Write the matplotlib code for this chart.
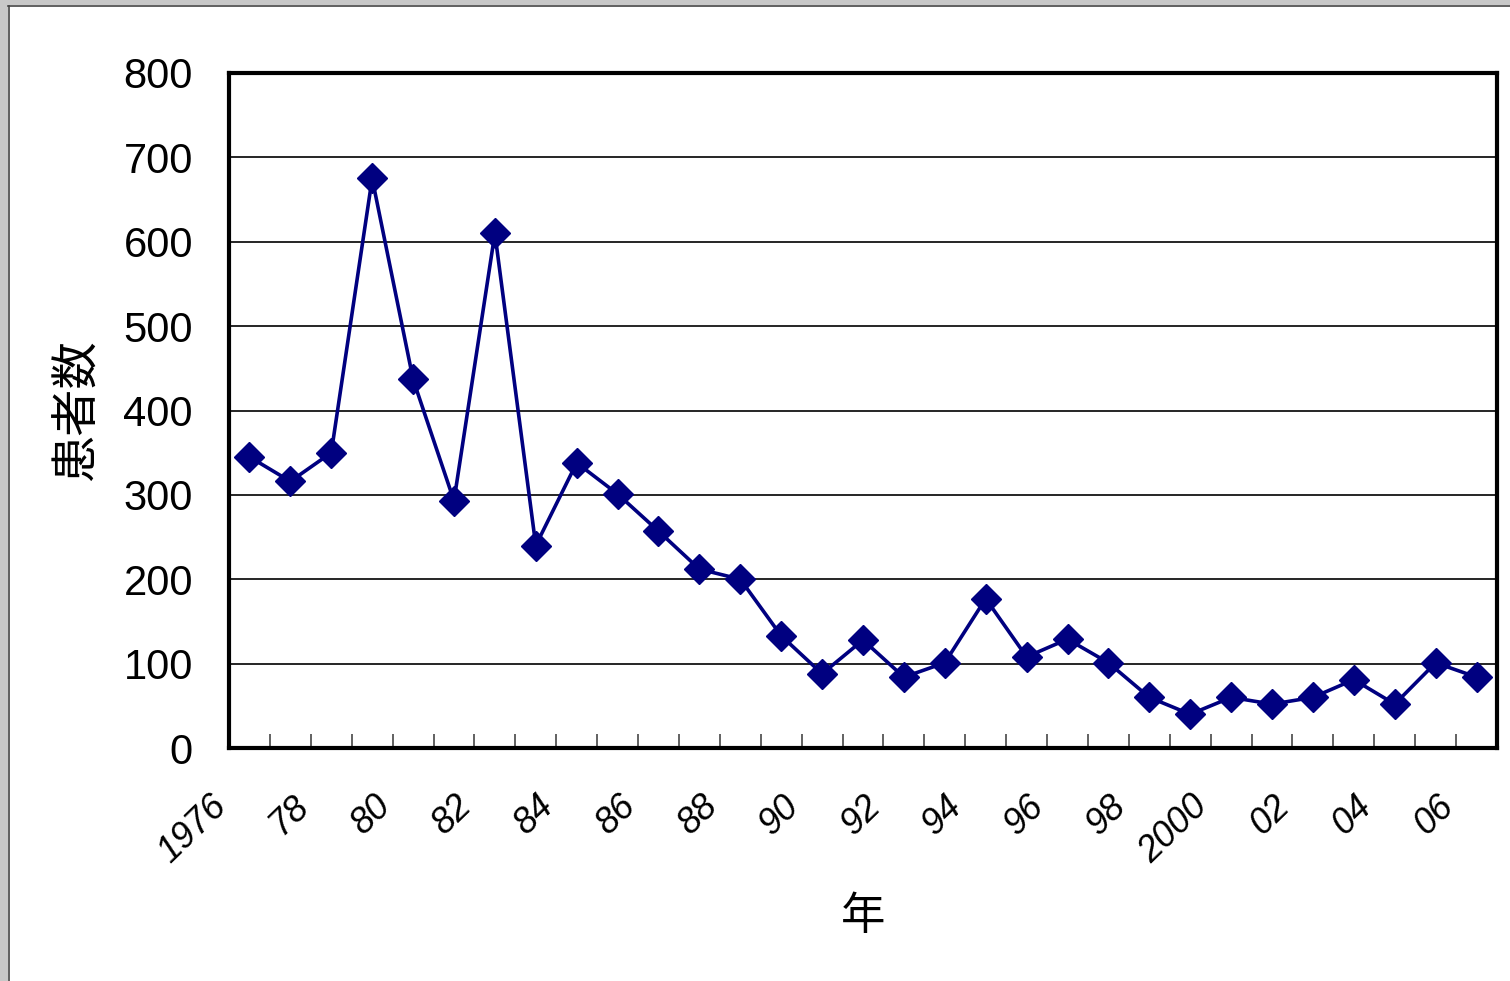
import matplotlib
matplotlib.use("Agg")
import matplotlib.pyplot as plt
from matplotlib.patches import Rectangle
from matplotlib.lines import Line2D

# Annual patient counts, 1976-2006
years = list(range(1976, 2007))
patients = [345, 316, 350, 675, 437, 293, 610, 240, 338, 301, 257, 212, 200,
            133, 88, 128, 84, 101, 177, 108, 129, 101, 60, 40, 60, 52, 60, 81,
            52, 101, 84]
year_labels = ["1976", "78", "80", "82", "84", "86", "88", "90", "92", "94",
               "96", "98", "2000", "02", "04", "06"]
y_ticks = [0, 100, 200, 300, 400, 500, 600, 700, 800]

JP = ["Noto Sans CJK JP", "DejaVu Sans"]
NUM = ["Liberation Sans", "DejaVu Sans"]

W, H, DPI = 1510, 981, 100
fig = plt.figure(figsize=(W / DPI, H / DPI), dpi=DPI)
fig.patch.set_facecolor("white")

# window-like frame along the top and left edges
fig.add_artist(Rectangle((0, 1 - 5 / H), 1, 5 / H, transform=fig.transFigure,
                         facecolor="#c8c8c8", edgecolor="none", zorder=-5))
fig.add_artist(Rectangle((0, 0), 8 / W, 1, transform=fig.transFigure,
                         facecolor="#c8c8c8", edgecolor="none", zorder=-5))
fig.add_artist(Line2D([8 / W, 1], [1 - 6 / H, 1 - 6 / H], transform=fig.transFigure,
                      color="#444444", lw=1.2))
fig.add_artist(Line2D([8.5 / W, 8.5 / W], [0, 1 - 6 / H], transform=fig.transFigure,
                      color="#444444", lw=1.2))

ax = fig.add_axes([229 / W, 1 - 748 / H, (1497 - 229) / W, (748 - 73) / H])
x = list(range(len(years)))
ax.plot(x, patients, color="#000080", lw=2.6, marker="D", ms=15,
        markerfacecolor="#000080", markeredgecolor="#000080", zorder=3,
        clip_on=False)

ax.set_xlim(-0.5, len(years) - 0.5)
ax.set_ylim(0, 800)
ax.set_yticks(y_ticks)
ax.set_yticklabels([str(v) for v in y_ticks], family=NUM, fontsize=30)
ax.tick_params(axis="y", length=0, pad=26)
ax.yaxis.grid(True, color="black", lw=1.2)
ax.set_axisbelow(True)

# tick marks on category boundaries, pointing inward
ax.set_xticks([i + 0.5 for i in range(len(years) - 1)])
ax.set_xticklabels([])
ax.tick_params(axis="x", direction="in", length=10, width=1.3, color="#555555")

for s in ax.spines.values():
    s.set_linewidth(3)
    s.set_color("black")

# slanted year labels on every second category
label_idx = list(range(0, len(years), 2))
for i, lab in zip(label_idx, year_labels):
    ax.annotate(lab, xy=(i, 0), xycoords=("data", "axes fraction"),
                xytext=(-29, -29), textcoords="offset points",
                rotation=44, rotation_mode="anchor", ha="right", va="top",
                family=NUM, style="italic", fontsize=26)

fig.text(78 / W, 1 - 410 / H, "患者数", family=JP, fontsize=34, rotation=90,
         ha="center", va="center")
fig.text(863 / W, 1 - 916 / H, "年", family=JP, fontsize=32,
         ha="center", va="center")

fig.savefig("out.png", dpi=DPI)
